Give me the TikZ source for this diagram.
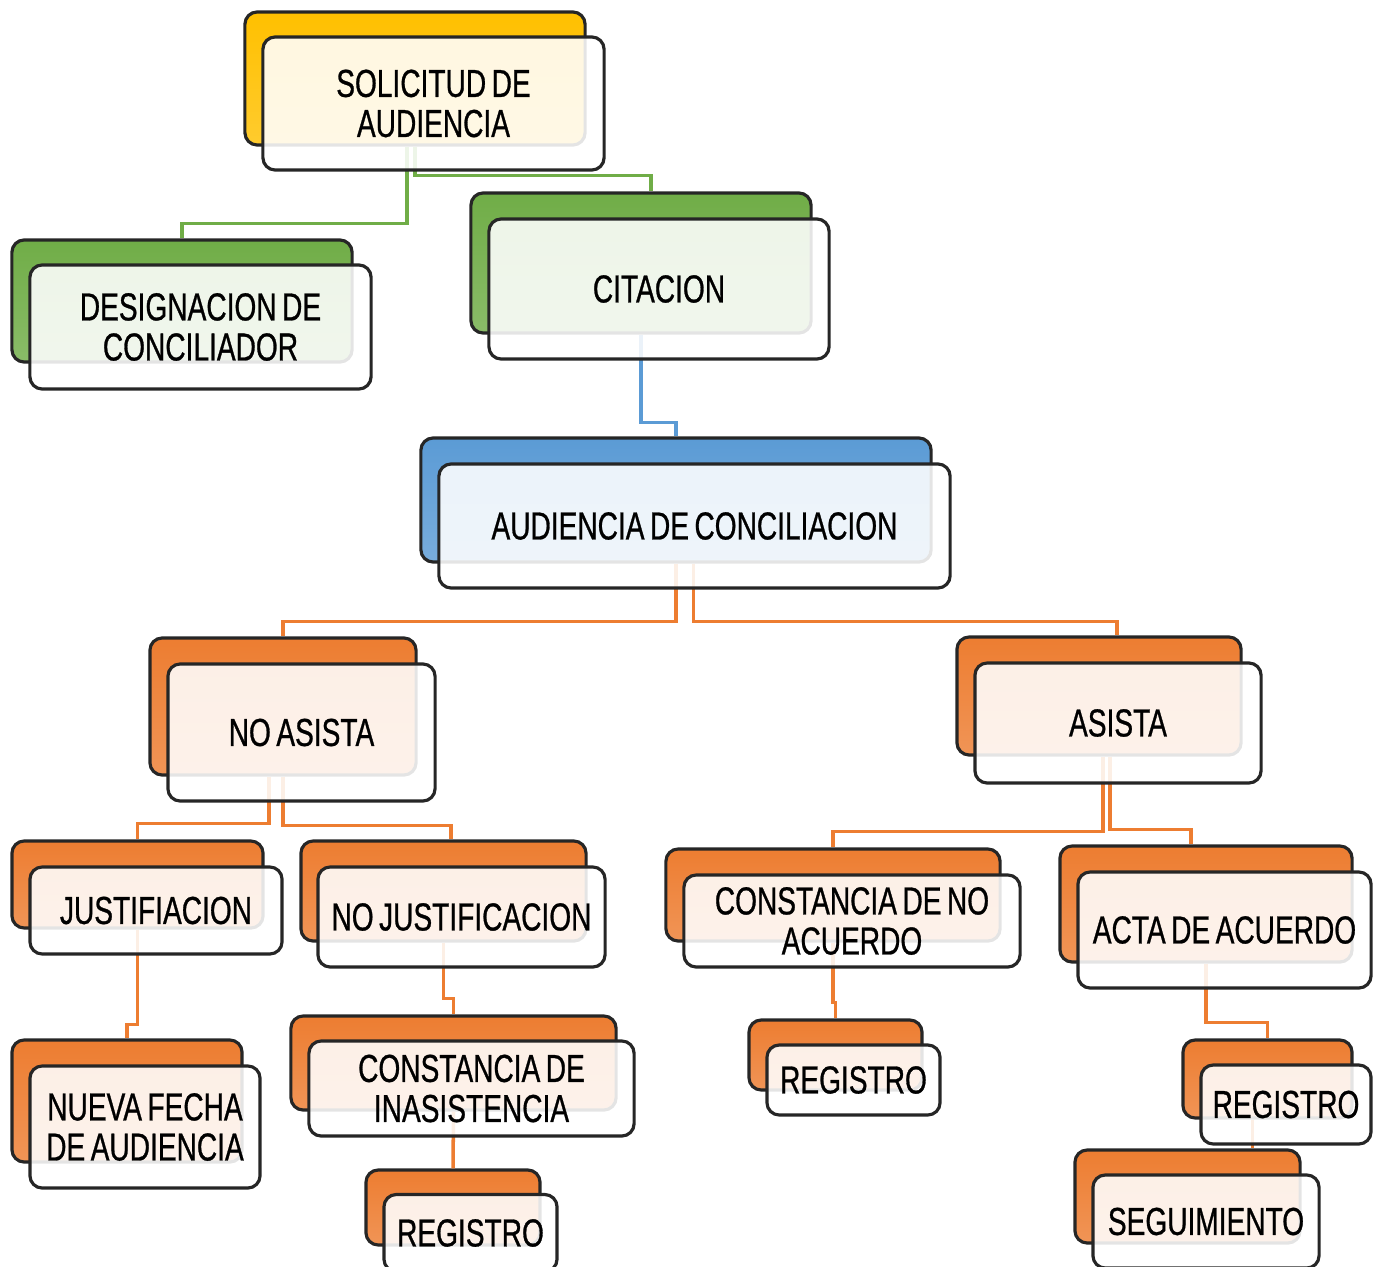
\documentclass[tikz,border=0pt]{standalone}
\usepackage{fontspec}
\setmainfont{Liberation Sans}[FakeStretch=0.72,WordSpace=0.7,FakeBold=0.7]
\usepackage{tikz}

\definecolor{ylw}{HTML}{FFC000}
\definecolor{grn}{HTML}{70AD47}
\definecolor{blu}{HTML}{5B9BD5}
\definecolor{org}{HTML}{ED7D31}

\begin{document}
\begin{tikzpicture}[x=0.01cm, y=-0.01cm,
	back/.style={draw=black!85, line width=0.9pt, rounded corners=3.5pt,
		top color=#1, bottom color=#1!82!white, inner sep=0pt},
	front/.style={draw=black!85, line width=0.9pt, rounded corners=3.5pt,
		fill=white, fill opacity=0.88, text opacity=1, align=center,
		inner sep=0pt, font=\fontsize{11.1}{11.4}\selectfont},
	conn/.style={draw=#1, line width=1pt}]

	\useasboundingbox (0,0) rectangle (1373,1267);

	% back boxes
	\node[back=ylw, minimum width=3.40cm, minimum height=1.33cm] (sol-bk) at (415,78.5) {};
	\node[back=grn, minimum width=3.40cm, minimum height=1.22cm] (des-bk) at (182,301) {};
	\node[back=grn, minimum width=3.40cm, minimum height=1.40cm] (cit-bk) at (641,263) {};
	\node[back=blu, minimum width=5.10cm, minimum height=1.24cm] (aud-bk) at (676,500) {};
	\node[back=org, minimum width=2.66cm, minimum height=1.37cm] (noa-bk) at (283,706.5) {};
	\node[back=org, minimum width=2.84cm, minimum height=1.18cm] (asi-bk) at (1099,696) {};
	\node[back=org, minimum width=2.51cm, minimum height=0.87cm] (jus-bk) at (137.5,884.5) {};
	\node[back=org, minimum width=2.85cm, minimum height=1.00cm] (noj-bk) at (443.5,891) {};
	\node[back=org, minimum width=3.34cm, minimum height=0.92cm] (cna-bk) at (833,895) {};
	\node[back=org, minimum width=2.92cm, minimum height=1.16cm] (act-bk) at (1206,904) {};
	\node[back=org, minimum width=2.30cm, minimum height=1.22cm] (nue-bk) at (127,1101) {};
	\node[back=org, minimum width=3.25cm, minimum height=0.94cm] (cin-bk) at (453.5,1063) {};
	\node[back=org, minimum width=1.74cm, minimum height=0.75cm] (reg1-bk) at (453,1207.5) {};
	\node[back=org, minimum width=1.73cm, minimum height=0.70cm] (reg2-bk) at (835.5,1055) {};
	\node[back=org, minimum width=1.69cm, minimum height=0.78cm] (reg3-bk) at (1267.5,1079) {};
	\node[back=org, minimum width=2.25cm, minimum height=0.93cm] (seg-bk) at (1187.5,1196.5) {};

	% connectors
	\draw[conn=grn] ([xshift=-0.08cm]sol-bk.south) -- ++(0,77) -| (des-bk.north);
	\draw[conn=grn] (sol-bk.south) -- ++(0,29) -| ([xshift=0.1cm]cit-bk.north);
	\draw[conn=blu] (cit-bk.south) -- ++(0,88) -| (aud-bk.north);
	\draw[conn=org] (aud-bk.south) -- ++(0,58) -| (noa-bk.north);
	\draw[conn=org] ([xshift=0.175cm]aud-bk.south) -- ++(0,58) -| ([xshift=0.18cm]asi-bk.north);
	\draw[conn=org] ([xshift=-0.14cm]noa-bk.south) -- ++(0,47) -| (jus-bk.north);
	\draw[conn=org] (noa-bk.south) -- ++(0,49) -| ([xshift=0.075cm]noj-bk.north);
	\draw[conn=org] ([xshift=0.04cm]asi-bk.south) -- ++(0,75) -| (cna-bk.north);
	\draw[conn=org] ([xshift=0.11cm]asi-bk.south) -- ++(0,73) -| ([xshift=-0.15cm]act-bk.north);
	\draw[conn=org] (jus-bk.south) -- ++(0,95) -| (nue-bk.north);
	\draw[conn=org] (noj-bk.south) -- ++(0,56) -| (cin-bk.north);
	\draw[conn=org] (cin-bk.south) -- (reg1-bk.north);
	\draw[conn=org] (cna-bk.south) -- ++(0,60) -| (reg2-bk.north);
	\draw[conn=org] (act-bk.south) -- ++(0,59) -| (reg3-bk.north);
	\draw[conn=org] ([xshift=-0.15cm]reg3-bk.south) -- ([xshift=-0.15cm]reg3-bk.south |- seg-bk.north);

	% front boxes
	\node[front, minimum width=3.41cm, minimum height=1.33cm] (sol) at (433.5,103.5) {SOLICITUD DE\\AUDIENCIA};
	\node[front, minimum width=3.41cm, minimum height=1.24cm] (des) at (200.5,327) {DESIGNACION DE\\CONCILIADOR};
	\node[front, minimum width=3.40cm, minimum height=1.40cm] (cit) at (659,289) {CITACION};
	\node[front, minimum width=5.11cm, minimum height=1.24cm] (aud) at (694.5,526) {AUDIENCIA DE CONCILIACION};
	\node[front, minimum width=2.67cm, minimum height=1.37cm] (noa) at (301.5,732.5) {NO ASISTA};
	\node[front, minimum width=2.86cm, minimum height=1.20cm] (asi) at (1118,723) {ASISTA};
	\node[front, minimum width=2.52cm, minimum height=0.87cm] (jus) at (156,910.5) {JUSTIFIACION};
	\node[front, minimum width=2.87cm, minimum height=1.00cm] (noj) at (461.5,917) {NO JUSTIFICACION};
	\node[front, minimum width=3.36cm, minimum height=0.92cm] (cna) at (852,921) {CONSTANCIA DE NO\\ACUERDO};
	\node[front, minimum width=2.93cm, minimum height=1.16cm] (act) at (1224.5,930) {ACTA DE ACUERDO};
	\node[front, minimum width=2.30cm, minimum height=1.22cm] (nue) at (145,1127) {NUEVA FECHA\\DE AUDIENCIA};
	\node[front, minimum width=3.25cm, minimum height=0.95cm] (cin) at (471.5,1088.5) {CONSTANCIA DE\\INASISTENCIA};
	\node[front, minimum width=1.73cm, minimum height=0.77cm] (reg1) at (470.5,1233) {REGISTRO};
	\node[front, minimum width=1.73cm, minimum height=0.70cm] (reg2) at (853.5,1080) {REGISTRO};
	\node[front, minimum width=1.70cm, minimum height=0.79cm] (reg3) at (1286,1104.5) {REGISTRO};
	\node[front, minimum width=2.26cm, minimum height=0.93cm] (seg) at (1206,1221.5) {SEGUIMIENTO};

\end{tikzpicture}
\end{document}
